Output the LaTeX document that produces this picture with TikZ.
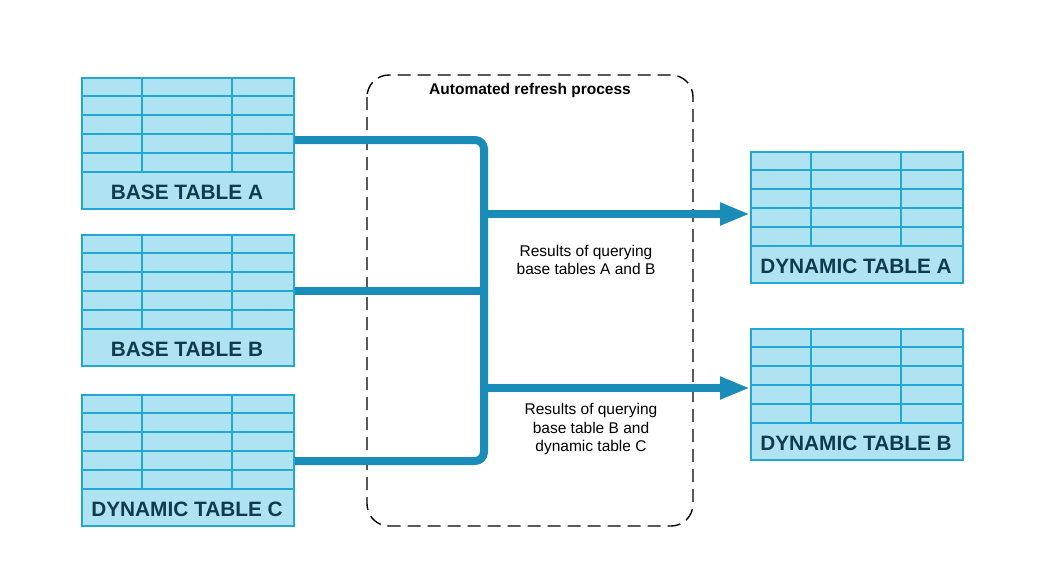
\documentclass[tikz,border=0pt]{standalone}
\usepackage{fontspec}
\setmainfont{Liberation Sans}
\usetikzlibrary{arrows.meta,calc}
\definecolor{tfill}{HTML}{B0E3F2}
\definecolor{tline}{HTML}{22A7D9}
\definecolor{ttext}{HTML}{0F3B4C}
\definecolor{flowc}{HTML}{1A8CBA}
\tikzset{
  tablebox/.style={draw=tline, fill=tfill, line width=2pt, minimum width=212pt, minimum height=131pt, anchor=north west, inner sep=0pt},
  gridline/.style={draw=tline, line width=2pt},
  tablelabel/.style={font=\bfseries\fontsize{20.8}{24}\selectfont, text=ttext, inner sep=0pt},
  flowline/.style={draw=flowc, line width=8pt},
  flowarrow/.style={draw=flowc, line width=8pt, -{Triangle[length=30pt,width=21pt]}},
  processbox/.style={draw=black, line width=1.4pt, dash pattern=on 13pt off 7pt, rounded corners=22pt},
  smalltext/.style={font=\fontsize{15.5}{18.5}\selectfont, align=center, inner sep=0pt},
  titletext/.style={font=\bfseries\fontsize{15.5}{18}\selectfont, inner sep=0pt},
}
\newcommand\dbtable[4]{%
  \node[tablebox] (#1) at (#2,#3) {};
  \foreach \r in {19,38,57,76,95} {
    \draw[gridline] ($(#1.north west)+(0,\r)$) -- ($(#1.north east)+(0,\r)$);
  }
  \foreach \c in {61,151} {
    \draw[gridline] ($(#1.north west)+(\c,0)$) -- ($(#1.north west)+(\c,95)$);
  }
  \node[tablelabel] (#1-label) at ($(#1.north west)+(106,115.5)$) {#4};
}
\begin{document}
\begin{tikzpicture}[x=1pt,y=-1pt]
\useasboundingbox (0,0) rectangle (1048,574);
% process box
\draw[processbox] (367,75) rectangle (693,526);
\node[titletext] (title) at (530,90) {Automated refresh process};
% tables
\dbtable{A}{81}{77}{BASE TABLE A}
\dbtable{B}{81}{234}{BASE TABLE B}
\dbtable{C}{81}{394}{DYNAMIC TABLE C}
\dbtable{DA}{750}{151}{DYNAMIC TABLE A}
\dbtable{DB}{750}{328}{DYNAMIC TABLE B}
% junctions
\coordinate (jA) at (484,140);
\coordinate (jB) at (484,291);
\coordinate (jC) at (484,461);
\coordinate (j1) at (484,214);
\coordinate (j2) at (484,388);
% flow lines
\draw[flowline, rounded corners=9pt] (A.east |- jA) -- (jA) -- (jB);
\draw[flowline] (B.east |- jB) -- ($(jB)+(4,0)$);
\draw[flowline, rounded corners=9pt] (C.east |- jC) -- (jC) -- (jB);
\draw[flowarrow] (j1) -- (DA.west |- j1);
\draw[flowarrow] (j2) -- (DB.west |- j2);
% labels
\node[smalltext] (r1) at (586,260) {Results of querying\\base tables A and B};
\node[smalltext] (r2) at (591,429) {Results of querying\\base table B and\\dynamic table C};
\end{tikzpicture}
\end{document}
